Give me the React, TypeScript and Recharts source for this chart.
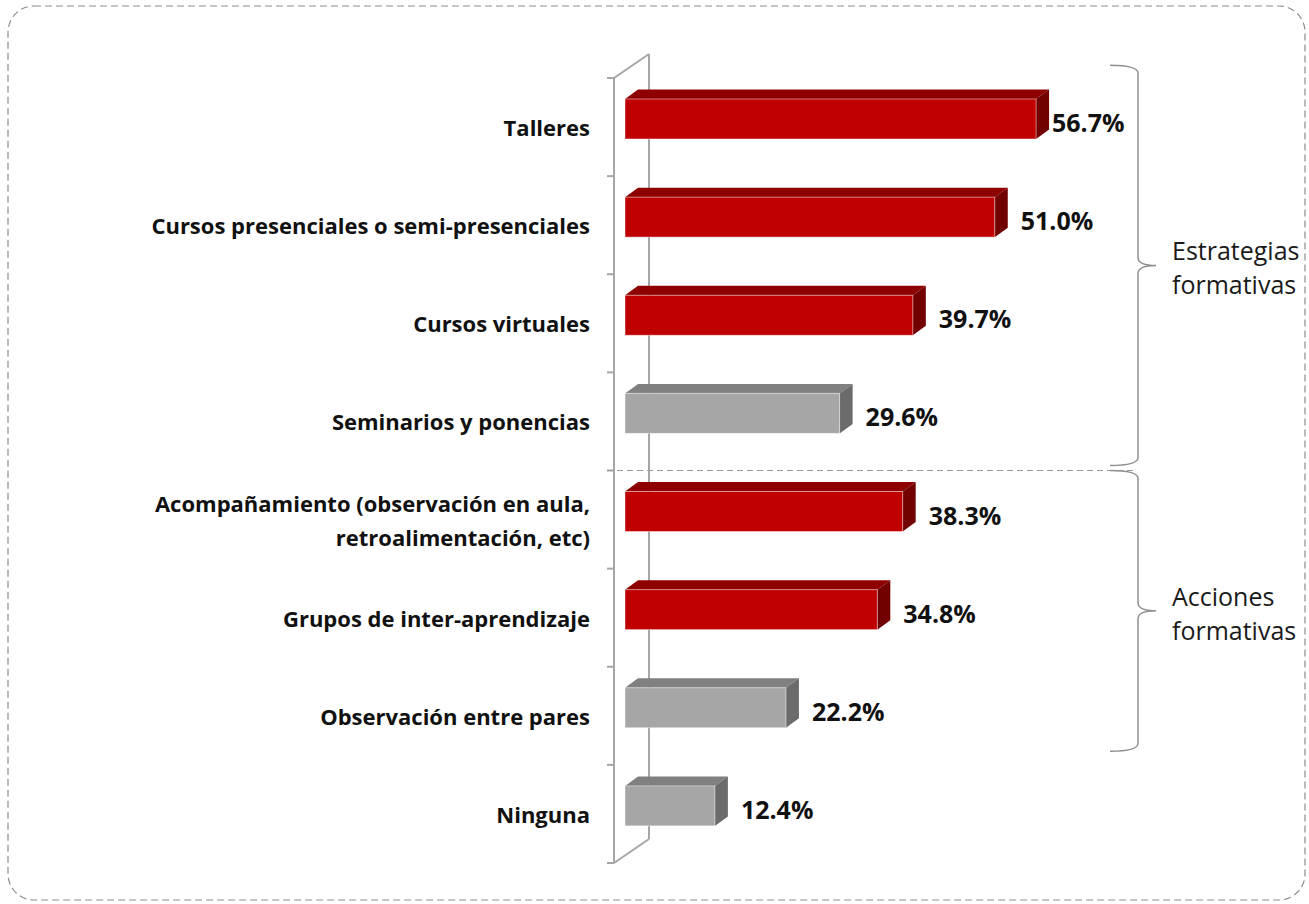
import React from 'react';
import { BarChart, Bar, XAxis, YAxis, LabelList, Customized } from 'recharts';

// data
const categories = [
  'Talleres',
  'Cursos presenciales o semi-presenciales',
  'Cursos virtuales',
  'Seminarios y ponencias',
  'Acompañamiento (observación en aula,\nretroalimentación, etc)',
  'Grupos de inter-aprendizaje',
  'Observación entre pares',
  'Ninguna',
];
const values = [56.7, 51.0, 39.7, 29.6, 38.3, 34.8, 22.2, 12.4];
const highlighted = [true, true, true, false, true, true, false, false];
const groupTitles = [
  ['Estrategias', 'formativas'],
  ['Acciones', 'formativas'],
];

const chartData = categories.map((name, i) => ({ name, value: values[i] }));

// layout
const W = 1309;
const H = 904;
const PLOT_LEFT = 625;
const PLOT_TOP = 78;
const PLOT_BOTTOM = 863;
const X_MAX = 60;
const PLOT_RIGHT = PLOT_LEFT + X_MAX * 7.25;
const Y_AXIS_W = 600;
const BAND = (PLOT_BOTTOM - PLOT_TOP) / categories.length;
const BAR_SIZE = 40;
const LIFT = 8;
const DX = 13;
const DY = 9.5;
const FONT = '"Open Sans", Lato, sans-serif';

// brace spans in band units
const braceSpans = [
  { from: -0.13, to: 3.95 },
  { from: 4.0, to: 6.86 },
];

const Bar3D = (props: any) => {
  const { x, y, width, height, index } = props;
  const hi = highlighted[index];
  const front = hi ? '#C00000' : '#A6A6A6';
  const top = hi ? '#8E0000' : '#808080';
  const side = hi ? '#720000' : '#6B6B6B';
  const yy = y - LIFT;
  return (
    <g>
      <polygon
        points={`${x},${yy} ${x + DX},${yy - DY} ${x + width + DX},${yy - DY} ${x + width},${yy}`}
        fill={top}
      />
      <polygon
        points={`${x + width},${yy} ${x + width + DX},${yy - DY} ${x + width + DX},${yy + height - DY} ${x + width},${yy + height}`}
        fill={side}
      />
      <rect x={x} y={yy} width={width} height={height} fill={front} stroke="rgba(255,255,255,0.45)" strokeWidth={1} />
    </g>
  );
};

const ValueLabel = (props: any) => {
  const { x, y, width, height, value } = props;
  // labels that would run past the plot are pulled back, like the original
  const lx = Math.min(x + width + 26, PLOT_RIGHT - 8);
  return (
    <text
      x={lx}
      y={y - LIFT + height / 2 + 3}
      fontFamily={FONT}
      fontWeight={700}
      fontSize={25}
      fill="#111"
      dominantBaseline="central"
    >
      {Number(value).toFixed(1)}%
    </text>
  );
};

const CategoryTick = (props: any) => {
  const { y, payload } = props;
  const lines = String(payload.value).split('\n');
  const lh = 34;
  const y0 = y - ((lines.length - 1) * lh) / 2;
  return (
    <g>
      {lines.map((ln, i) => (
        <text
          key={i}
          x={PLOT_LEFT - 35}
          y={y0 + i * lh}
          textAnchor="end"
          dominantBaseline="central"
          fontFamily={FONT}
          fontWeight={700}
          fontSize={22}
          fill="#111"
        >
          {ln}
        </text>
      ))}
    </g>
  );
};

const brace = (x0: number, x1: number, tip: number, yTop: number, yBot: number) => {
  const mid = (yTop + yBot) / 2;
  const r = 8;
  return `M ${x0} ${yTop} Q ${x1} ${yTop} ${x1} ${yTop + r} L ${x1} ${mid - r} Q ${x1} ${mid} ${tip} ${mid} Q ${x1} ${mid} ${x1} ${mid + r} L ${x1} ${yBot - r} Q ${x1} ${yBot} ${x0} ${yBot}`;
};

const Decor = () => {
  const wallX = PLOT_LEFT - 11;
  const wdx = 35;
  const wdy = 24;
  const sepY = PLOT_TOP + 4 * BAND;
  return (
    <g>
      <rect x={8} y={6} width={1297} height={894} rx={26} fill="none" stroke="#8c8c8c" strokeWidth={1.2} strokeDasharray="7 4" />
      {/* side wall */}
      <g stroke="#A6A6A6" strokeWidth={2} fill="none">
        <line x1={wallX} y1={PLOT_TOP} x2={wallX} y2={PLOT_BOTTOM} />
        <line x1={wallX + wdx} y1={PLOT_TOP - wdy} x2={wallX + wdx} y2={PLOT_BOTTOM - wdy} />
        <line x1={wallX} y1={PLOT_TOP} x2={wallX + wdx} y2={PLOT_TOP - wdy} />
        <line x1={wallX} y1={PLOT_BOTTOM} x2={wallX + wdx} y2={PLOT_BOTTOM - wdy} />
        {categories.map((_, i) => (
          <line key={i} x1={wallX - 7} y1={PLOT_TOP + i * BAND} x2={wallX} y2={PLOT_TOP + i * BAND} />
        ))}
        <line x1={wallX - 7} y1={PLOT_BOTTOM} x2={wallX} y2={PLOT_BOTTOM} />
      </g>
      <line x1={wallX - 7} y1={sepY} x2={1134} y2={sepY} stroke="#9a9a9a" strokeWidth={1.2} strokeDasharray="6 4" />
      {braceSpans.map((s, i) => {
        const yTop = PLOT_TOP + s.from * BAND;
        const yBot = PLOT_TOP + s.to * BAND;
        const mid = (yTop + yBot) / 2;
        return (
          <g key={i}>
            <path d={brace(1110, 1138, 1156, yTop, yBot)} fill="none" stroke="#8f8f8f" strokeWidth={1.5} />
            {groupTitles[i].map((t, j) => (
              <text
                key={j}
                x={1172}
                y={mid - 15 + j * 34}
                dominantBaseline="central"
                fontFamily={FONT}
                fontSize={25}
                fill="#1a1a1a"
              >
                {t}
              </text>
            ))}
          </g>
        );
      })}
    </g>
  );
};

export default function App() {
  return (
    <div style={{ position: 'absolute', left: 0, top: 0, width: W, height: H, background: '#fff' }}>
      <BarChart
        width={W}
        height={H}
        data={chartData}
        layout="vertical"
        margin={{ top: PLOT_TOP, bottom: H - PLOT_BOTTOM, left: PLOT_LEFT - Y_AXIS_W, right: W - PLOT_RIGHT }}
      >
        <Customized component={<Decor />} />
        <XAxis type="number" domain={[0, X_MAX]} hide />
        <YAxis
          type="category"
          dataKey="name"
          width={Y_AXIS_W}
          axisLine={false}
          tickLine={false}
          interval={0}
          tick={<CategoryTick />}
        />
        <Bar dataKey="value" barSize={BAR_SIZE} shape={<Bar3D />} isAnimationActive={false}>
          <LabelList dataKey="value" content={<ValueLabel />} />
        </Bar>
      </BarChart>
    </div>
  );
}
